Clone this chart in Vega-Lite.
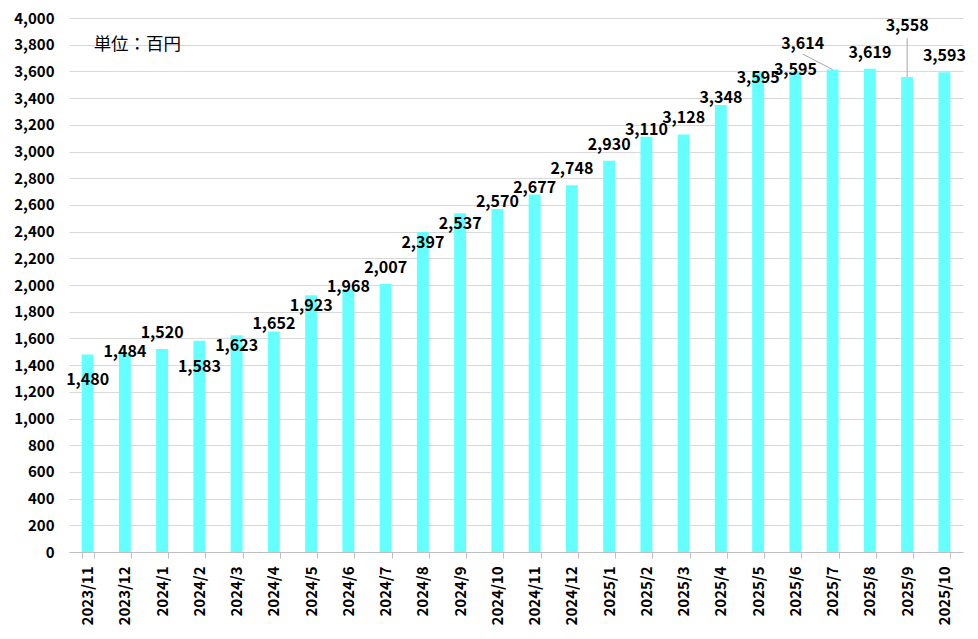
{
  "$schema": "https://vega.github.io/schema/vega-lite/v6.json",
  "width": 894,
  "height": 534,
  "autosize": {"type": "none"},
  "padding": {"left": 69, "top": 18, "right": 15, "bottom": 87},
  "background": "white",
  "config": {
    "view": {"stroke": null},
    "font": "Noto Sans CJK JP",
    "text": {"font": "Noto Sans CJK JP"}
  },
  "data": {
    "values": [
      {"month": "2023/11", "value": 1480},
      {"month": "2023/12", "value": 1484},
      {"month": "2024/1", "value": 1520},
      {"month": "2024/2", "value": 1583},
      {"month": "2024/3", "value": 1623},
      {"month": "2024/4", "value": 1652},
      {"month": "2024/5", "value": 1923},
      {"month": "2024/6", "value": 1968},
      {"month": "2024/7", "value": 2007},
      {"month": "2024/8", "value": 2397},
      {"month": "2024/9", "value": 2537},
      {"month": "2024/10", "value": 2570},
      {"month": "2024/11", "value": 2677},
      {"month": "2024/12", "value": 2748},
      {"month": "2025/1", "value": 2930},
      {"month": "2025/2", "value": 3110},
      {"month": "2025/3", "value": 3128},
      {"month": "2025/4", "value": 3348},
      {"month": "2025/5", "value": 3595},
      {"month": "2025/6", "value": 3595},
      {"month": "2025/7", "value": 3614},
      {"month": "2025/8", "value": 3619},
      {"month": "2025/9", "value": 3558},
      {"month": "2025/10", "value": 3593}
    ]
  },
  "encoding": {
    "x": {
      "field": "month",
      "type": "ordinal",
      "sort": null,
      "title": null,
      "scale": {"paddingInner": 0.68, "paddingOuter": 0.34},
      "axis": {
        "labelAngle": -90,
        "labelAlign": "right",
        "labelBaseline": "middle",
        "labelFont": "Noto Sans CJK JP",
        "labelFontSize": 15,
        "labelFontWeight": "bold",
        "labelColor": "#000000",
        "labelPadding": 8,
        "domainColor": "#bfbfbf",
        "tickColor": "#bfbfbf",
        "tickBand": "extent",
        "tickSize": 6,
        "grid": false
      }
    },
    "y": {
      "field": "value",
      "type": "quantitative",
      "title": null,
      "scale": {"domain": [0, 4000], "nice": false},
      "axis": {
        "values": [0, 200, 400, 600, 800, 1000, 1200, 1400, 1600, 1800, 2000, 2200, 2400, 2600, 2800, 3000, 3200, 3400, 3600, 3800, 4000],
        "format": ",d",
        "labelFont": "Noto Sans CJK JP",
        "labelFontSize": 15,
        "labelFontWeight": "bold",
        "labelColor": "#000000",
        "labelPadding": 15,
        "domain": false,
        "ticks": false,
        "grid": true,
        "gridColor": "#d9d9d9",
        "gridWidth": 1
      }
    }
  },
  "layer": [
    {"mark": {"type": "bar", "color": "#66FFFF"}},
    {
      "transform": [{"filter": {"field": "month", "oneOf": ["2024/1", "2024/7", "2024/12", "2025/1", "2025/3", "2025/8", "2025/10"]}}],
      "mark": {"type": "text", "baseline": "middle", "align": "center", "dy": -16, "fontSize": 16, "fontWeight": "bold", "color": "#000000"},
      "encoding": {"text": {"field": "value", "type": "quantitative", "format": ","}}
    },
    {
      "transform": [{"filter": {"field": "month", "oneOf": ["2024/4", "2024/10", "2024/11", "2025/2", "2025/4"]}}],
      "mark": {"type": "text", "baseline": "middle", "align": "center", "dy": -7, "fontSize": 16, "fontWeight": "bold", "color": "#000000"},
      "encoding": {"text": {"field": "value", "type": "quantitative", "format": ","}}
    },
    {
      "transform": [{"filter": {"field": "month", "oneOf": ["2023/12", "2024/6", "2025/6"]}}],
      "mark": {"type": "text", "baseline": "middle", "align": "center", "dy": -2, "fontSize": 16, "fontWeight": "bold", "color": "#000000"},
      "encoding": {"text": {"field": "value", "type": "quantitative", "format": ","}}
    },
    {
      "transform": [{"filter": {"field": "month", "oneOf": ["2024/3", "2024/5", "2024/8", "2024/9"]}}],
      "mark": {"type": "text", "baseline": "middle", "align": "center", "dy": 11, "fontSize": 16, "fontWeight": "bold", "color": "#000000"},
      "encoding": {"text": {"field": "value", "type": "quantitative", "format": ","}}
    },
    {
      "transform": [{"filter": {"field": "month", "oneOf": ["2025/5"]}}],
      "mark": {"type": "text", "baseline": "middle", "align": "center", "dy": 6, "fontSize": 16, "fontWeight": "bold", "color": "#000000"},
      "encoding": {"text": {"field": "value", "type": "quantitative", "format": ","}}
    },
    {
      "transform": [{"filter": {"field": "month", "oneOf": ["2023/11", "2024/2"]}}],
      "mark": {"type": "text", "baseline": "middle", "align": "center", "dy": 26, "fontSize": 16, "fontWeight": "bold", "color": "#000000"},
      "encoding": {"text": {"field": "value", "type": "quantitative", "format": ","}}
    },
    {
      "transform": [{"filter": {"field": "month", "oneOf": ["2025/7"]}}],
      "mark": {"type": "text", "baseline": "middle", "align": "center", "dy": -26, "dx": -30, "fontSize": 16, "fontWeight": "bold", "color": "#000000"},
      "encoding": {"text": {"field": "value", "type": "quantitative", "format": ","}}
    },
    {
      "transform": [{"filter": {"field": "month", "oneOf": ["2025/9"]}}],
      "mark": {"type": "text", "baseline": "middle", "align": "center", "dy": -51, "fontSize": 16, "fontWeight": "bold", "color": "#000000"},
      "encoding": {"text": {"field": "value", "type": "quantitative", "format": ","}}
    },
    {
      "transform": [{"filter": {"field": "month", "oneOf": ["2025/9"]}}],
      "mark": {"type": "rule", "color": "#a6a6a6", "strokeWidth": 1},
      "encoding": {"y2": {"datum": 3850}}
    },
    {
      "transform": [{"filter": {"field": "month", "oneOf": ["2025/7"]}}],
      "mark": {"type": "rule", "color": "#a6a6a6", "strokeWidth": 1, "xOffset": -30},
      "encoding": {
        "x2": {"field": "month"},
        "y": {"datum": 3730},
        "y2": {"field": "value"}
      }
    },
    {
      "transform": [{"filter": {"field": "month", "equal": "2023/11"}}],
      "mark": {"type": "text", "align": "left", "baseline": "middle", "dx": 6, "fontSize": 17.5, "fontWeight": "normal", "color": "#000000", "text": "単位：百円"},
      "encoding": {
        "y": {"datum": 3800}
      }
    }
  ]
}
